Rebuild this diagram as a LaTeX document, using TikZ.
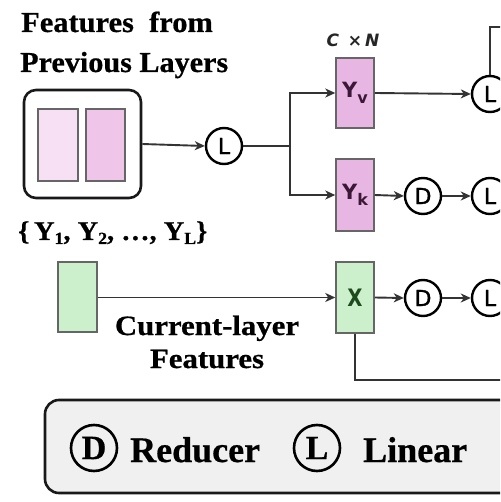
\documentclass[tikz,border=0pt]{standalone}
\usepackage{fontspec}
\setmainfont{Liberation Serif}[BoldFeatures={FakeBold=0.6}]
\newfontfamily\sansf{DejaVu Sans}
\newfontfamily\sanssemi{DejaVu Sans}[FakeBold=1.4]
\usetikzlibrary{arrows.meta}
\definecolor{lineC}{HTML}{333333}
\definecolor{pinkA}{HTML}{F7E0F3}
\definecolor{pinkB}{HTML}{EFC6EA}
\definecolor{pinkC}{HTML}{E8B6E2}
\definecolor{greenA}{HTML}{CBF0CB}
\definecolor{purpT}{HTML}{3B1838}
\definecolor{greenT}{HTML}{1E4A1E}
\definecolor{legbg}{HTML}{F0F0F0}
\begin{document}
\begin{tikzpicture}[x=1pt,y=-1pt,
  arr/.style={-{Stealth[length=10pt,width=9pt,inset=3pt]}, line width=1.9pt, draw=lineC},
  ln/.style={line width=1.9pt, draw=lineC},
  op/.style={circle, draw=black, line width=2.4pt, minimum size=36pt, inner sep=0pt, fill=white,
             font=\sanssemi\fontsize{22}{22}\selectfont},
  feat/.style={draw=black!60, line width=1.5pt, minimum width=38pt, minimum height=71pt, inner sep=0pt},
  boxlbl/.style={font=\sansf\bfseries\fontsize{21}{21}\selectfont},
  serifbig/.style={font=\bfseries\fontsize{29}{40}\selectfont, anchor=base west, inner sep=0pt},
  legop/.style={circle, draw=black, line width=2.6pt, minimum size=46pt, inner sep=0pt,
             font=\bfseries\fontsize{34}{34}\selectfont},
  legtxt/.style={font=\bfseries\fontsize{36}{36}\selectfont, anchor=base west, inner sep=0pt}
]
\clip (0,0) rectangle (500,502);
\fill[white] (0,0) rectangle (500,502);

% title
\node[serifbig] (t1) at (21,32) {\scalebox{1.05}[1]{Features\ \ from}};
\node[serifbig] (t2) at (20,72) {\scalebox{1.04}[1]{Previous Layers}};

% previous features box
\node[draw=black!90, line width=2.6pt, rounded corners=12pt, minimum width=117pt, minimum height=108pt] (prev) at (82.5,144) {};
\node[feat, fill=pinkA, minimum width=40pt, minimum height=72pt] (r1) at (58,145) {};
\node[feat, fill=pinkB, minimum width=39pt, minimum height=72pt] (r2) at (105.5,145) {};
\node[font=\bfseries\fontsize{27}{27}\selectfont, anchor=base west, inner sep=0pt] (ylist) at (18,240)
  {\scalebox{1.05}[1]{\{\,Y\raisebox{-4pt}{\fontsize{17}{17}\selectfont 1}, Y\raisebox{-4pt}{\fontsize{17}{17}\selectfont 2}, …, Y\raisebox{-4pt}{\fontsize{17}{17}\selectfont L}\}}};

% linear after prev
\node[op] (L0) at (224,146) {L};
\coordinate (br) at (290,146);

% Y_v and Y_k
\node[feat, fill=pinkC, text=purpT, boxlbl, minimum height=70pt] (Yv) at (355,93)
  {Y\raisebox{-6pt}{\fontsize{16}{16}\selectfont v}};
\node[feat, fill=pinkC, text=purpT, boxlbl, minimum height=72pt] (Yk) at (355,195)
  {Y\raisebox{-6pt}{\fontsize{16}{16}\selectfont k}};
\node[font=\sansf\bfseries\itshape\fontsize{17}{17}\selectfont, text=black!85] (cn) at (353,40) {C \,×\,N};

\node[op] (L1) at (490,94) {L};
\node[op] (D1) at (423,196) {D};
\node[op] (L2) at (490,196) {L};

% current layer
\node[feat, fill=greenA, minimum width=39pt, minimum height=70pt] (cur) at (77.5,297) {};
\node[feat, fill=greenA, text=greenT, boxlbl, minimum height=71pt] (X) at (355,297.5)
  {\scalebox{0.82}[1]{\fontsize{24}{24}\selectfont X}};
\node[op] (D2) at (423,298) {D};
\node[op] (L3) at (490,298) {L};
\node[font=\bfseries\fontsize{28}{33}\selectfont, anchor=base, inner sep=0pt] (c1) at (207,335) {\scalebox{1.1}[1]{Current-layer}};
\node[font=\bfseries\fontsize{28}{33}\selectfont, anchor=base, inner sep=0pt] (c2) at (207,368) {\scalebox{1.1}[1]{Features}};

% connectors
\draw[arr] (prev.east) -- (L0.west);
\draw[ln] (L0.east) -- (br);
\draw[arr] (br) |- (Yv.west);
\draw[arr] (br) |- (Yk.west);
\draw[arr] (Yv.east) -- (L1.west);
\draw[arr] (Yk.east) -- (D1.west);
\draw[arr] (D1.east) -- (L2.west);
\draw[arr] (cur.east |- X.west) -- (X.west);
\draw[arr] (X.east) -- (D2.west);
\draw[arr] (D2.east) -- (L3.west);
\coordinate (topR) at (520,27);
\draw[ln] (L1.north) |- (topR);
\coordinate (botR) at (520,380);
\draw[ln] (X.south) |- (botR);

% legend
\draw[draw=black!90, fill=legbg, line width=2.6pt, rounded corners=14pt] (45,400) rectangle (560,493);
\node[legop] (lD) at (94,448) {D};
\node[legtxt] (lDt) at (130,462) {Reducer};
\node[legop] (lL) at (317,448) {L};
\node[legtxt] (lLt) at (363,462) {Linear};
\end{tikzpicture}
\end{document}
